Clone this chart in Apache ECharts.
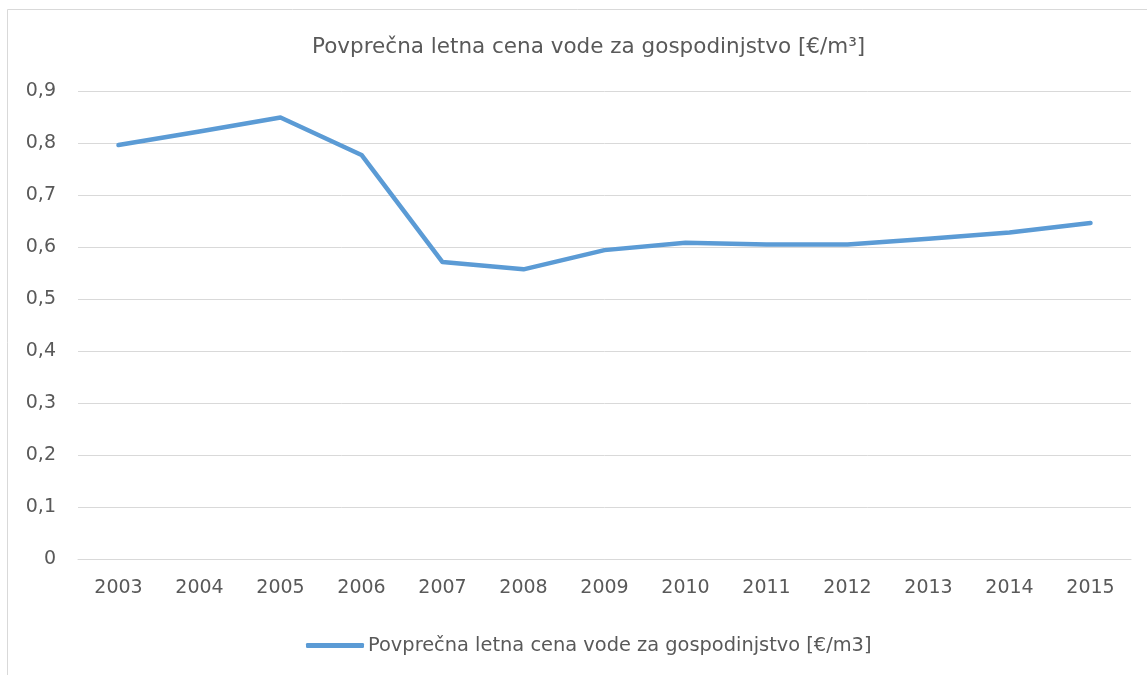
<!DOCTYPE html>
<html>
<head>
<meta charset="utf-8">
<script src="https://cdn.jsdelivr.net/npm/echarts@6/dist/echarts.min.js"></script>
<style>
html,body{margin:0;padding:0;background:#fff;}
#chart{width:1147px;height:675px;}
</style>
</head>
<body>
<div id="chart"></div>
<script>
const titleText = 'Povprečna letna cena vode za gospodinjstvo [€/m³]';
const seriesName = 'Povprečna letna cena vode za gospodinjstvo [€/m3]';
const years = ['2003','2004','2005','2006','2007','2008','2009','2010','2011','2012','2013','2014','2015'];
const prices = [0.796, 0.822, 0.849, 0.777, 0.571, 0.557, 0.594, 0.608, 0.605, 0.605, 0.616, 0.628, 0.646];
const yTicks = [0, 0.1, 0.2, 0.3, 0.4, 0.5, 0.6, 0.7, 0.8, 0.9];

const font = 'DejaVu Sans';
const chart = echarts.init(document.getElementById('chart'), null, {renderer: 'canvas'});
chart.setOption({
  animation: false,
  backgroundColor: '#ffffff',
  graphic: [{
    type: 'rect',
    shape: {x: 7.5, y: 9.5, width: 1300, height: 800},
    style: {fill: 'none', stroke: '#d9d9d9', lineWidth: 1},
    silent: true
  }],
  title: {
    text: titleText,
    left: 307,
    top: 31,
    textStyle: {fontFamily: font, fontSize: 21.5, fontWeight: 'normal', color: '#595959'}
  },
  legend: {
    bottom: 15,
    left: 301,
    itemWidth: 58,
    itemHeight: 5,
    itemGap: 0,
    icon: 'roundRect',
    textStyle: {fontFamily: font, fontSize: 19.4, color: '#595959', padding: [0,0,0,-1]},
    data: [seriesName]
  },
  grid: {left: 78, right: 16, top: 91, bottom: 116, containLabel: false},
  xAxis: {
    type: 'category',
    data: years,
    boundaryGap: true,
    axisLine: {show: true, lineStyle: {color: '#d9d9d9', width: 1}},
    axisTick: {show: false},
    axisLabel: {fontFamily: font, fontSize: 19, color: '#595959', margin: 20}
  },
  yAxis: {
    type: 'value',
    min: 0,
    max: 0.9,
    interval: 0.1,
    axisLine: {show: false},
    axisTick: {show: false},
    splitLine: {lineStyle: {color: '#d9d9d9', width: 1}},
    axisLabel: {
      fontFamily: font, fontSize: 19, color: '#595959', margin: 22,
      formatter: v => {
        const t = yTicks.find(x => Math.abs(x - v) < 1e-9);
        const val = t === undefined ? v : t;
        return val === 0 ? '0' : val.toFixed(1).replace('.', ',');
      }
    }
  },
  series: [{
    name: seriesName,
    type: 'line',
    data: prices,
    symbol: 'none',
    lineStyle: {color: '#5b9bd5', width: 4.5, cap: 'round', join: 'round'},
    itemStyle: {color: '#5b9bd5'}
  }]
});
</script>
</body>
</html>
